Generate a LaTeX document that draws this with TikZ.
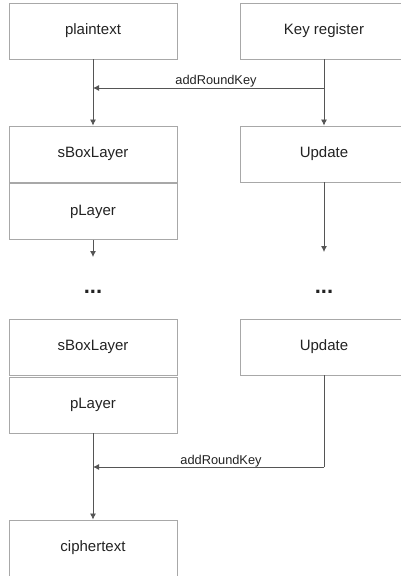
\documentclass[tikz,border=0pt]{standalone}
\usepackage{fontspec}
\setmainfont{Liberation Sans}
\usetikzlibrary{arrows.meta}
\definecolor{boxline}{HTML}{A8A8A8}
\definecolor{arrline}{HTML}{555555}
\definecolor{txt}{HTML}{222222}
\begin{document}
\begin{tikzpicture}[x=1pt,y=-1pt,
  blk/.style={draw=boxline,line width=0.9pt,minimum width=168pt,minimum height=56pt,inner sep=0pt,
    font=\fontsize{15}{18}\selectfont,text=txt},
  arr/.style={draw=arrline,line width=0.8pt,-{Latex[length=6pt,width=6pt]}},
  ln/.style={draw=arrline,line width=0.8pt},
  lbl/.style={font=\fontsize{12.8}{15}\selectfont,text=txt,inner sep=0pt},
  dots/.style={font=\bfseries\fontsize{22}{24}\selectfont,text=txt,inner sep=0pt}]
\useasboundingbox (0,0) rectangle (400,576);
\node[blk] (pt) at (93,31) {plaintext};
\node[blk] (kr) at (324,31) {Key register};
\node[blk] (sb1) at (93,154) {sBoxLayer};
\node[blk] (up1) at (324,154) {Update};
\node[blk] (pl1) at (93,211.5) {pLayer};
\node[blk] (sb2) at (93,347) {sBoxLayer};
\node[blk] (up2) at (324,347) {Update};
\node[blk] (pl2) at (93,405) {pLayer};
\node[blk] (ct) at (93,548) {ciphertext};
\coordinate (j1) at (324,88);
\coordinate (m1) at (93,88);
\coordinate (d1) at (93,257);
\coordinate (d2) at (324,252);
\coordinate (j2) at (324,467);
\coordinate (m2) at (93,467);
\node[dots] (dl) at (93,292) {...};
\node[dots] (dr) at (324,292) {...};
\node[lbl] (k1) at (216,81) {addRoundKey};
\node[lbl] (k2) at (221,461) {addRoundKey};
\draw[arr] (pt) -- (sb1);
\draw[arr] (kr) -- (up1);
\draw[arr] (j1) -- (m1);
\draw[arr] (pl1) -- (d1);
\draw[arr] (up1) -- (d2);
\draw[ln] (up2) -- (j2);
\draw[arr] (j2) -- (m2);
\draw[arr] (pl2) -- (ct);
\end{tikzpicture}
\end{document}
